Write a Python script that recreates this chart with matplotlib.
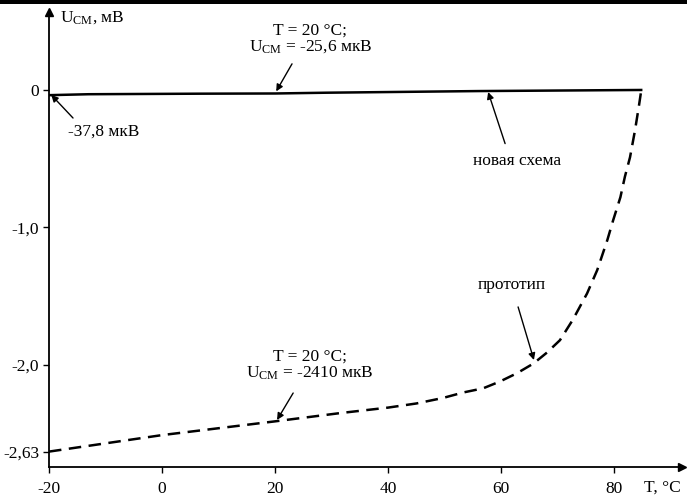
import matplotlib
matplotlib.use("Agg")
import matplotlib.pyplot as plt
from matplotlib.patches import Rectangle

plt.rcParams['font.family'] = ['Liberation Serif', 'DejaVu Serif']
plt.rcParams['mathtext.fontset'] = 'custom'
plt.rcParams['mathtext.rm'] = 'Liberation Serif'
plt.rcParams['mathtext.it'] = 'Liberation Serif'

# Data (T in °C, U in mV)
new_T = [-20, -13, 7, 20, 29, 56, 85]
new_U = [-0.0378, -0.031, -0.027, -0.0256, -0.020, -0.008, 0.0]

proto_T = [-20, -10, 0, 10, 20, 31.5, 40, 45, 49.7, 53.3, 56.8, 59.8, 62.8, 65.7,
           68.1, 70.4, 72.7, 75.2, 77.0, 78.8, 79.8, 81.1, 81.9, 82.8, 83.7, 84.4, 84.8]
proto_U = [-2.63, -2.57, -2.51, -2.46, -2.41, -2.35, -2.31, -2.28, -2.24, -2.20, -2.17, -2.12, -2.06, -1.99,
           -1.91, -1.82, -1.67, -1.48, -1.31, -1.09, -0.95, -0.78, -0.63, -0.49, -0.29, -0.11, 0.0]

x_ticks = [-20, 0, 20, 40, 60, 80]
x_labels = ['-20', '0', '20', '40', '60', '80']
y_ticks = [0, -1.0, -2.0, -2.63]
y_labels = ['0', '-1,0', '-2,0', '-2,63']

fig = plt.figure(figsize=(6.87, 4.98), dpi=100)
ax = fig.add_axes([49/687, 31/498, (682-49)/687, (467-12)/498])
ax.set_xlim(-20, 92)
ax.set_ylim(-2.742, 0.567)

ax.plot(new_T, new_U, color='black', lw=1.8, solid_capstyle='butt')
ax.plot(proto_T, proto_U, color='black', lw=1.8, dashes=(5, 3))

for s in ['top', 'right']:
    ax.spines[s].set_visible(False)
for s in ['left', 'bottom']:
    ax.spines[s].set_linewidth(1.3)

ax.plot([0], [1], marker='^', color='black', markersize=6, transform=ax.transAxes, clip_on=False)
ax.plot([1], [0], marker='>', color='black', markersize=6, transform=ax.transAxes, clip_on=False)

ax.set_xticks(x_ticks)
ax.set_xticklabels(x_labels)
ax.set_yticks(y_ticks)
ax.set_yticklabels(y_labels)
ax.tick_params(axis='both', direction='out', length=4, width=1, labelsize=12.5, pad=3)
ax.tick_params(axis='x', pad=6)

fs = 12.5
ax.text(-18.0, 0.524, 'U$_{\\mathrm{СМ}}$, мВ', fontsize=fs, ha='left', va='center')
ax.text(88.5, -2.895, 'T, °C', fontsize=fs, ha='center', va='center', clip_on=False)

arrow = dict(arrowstyle='-|>', color='black', lw=1.0, mutation_scale=10, shrinkA=0, shrinkB=0)

ax.annotate('', xy=(-19.6, -0.036), xytext=(-15.75, -0.204), arrowprops=arrow)
ax.text(-10.4, -0.305, '-37,8 мкВ', fontsize=fs, ha='center', va='center')

ax.annotate('', xy=(20.2, -0.01), xytext=(23.0, 0.19), arrowprops=arrow)
ax.text(26.2, 0.37, 'T = 20 °C;\nU$_{\\mathrm{СМ}}$ = -25,6 мкВ', fontsize=fs,
        ha='center', va='center', linespacing=1.0)

ax.annotate('', xy=(57.7, -0.015), xytext=(60.7, -0.39), arrowprops=arrow)
ax.text(62.8, -0.516, 'новая схема', fontsize=fs, ha='center', va='center')

ax.annotate('', xy=(65.8, -1.964), xytext=(63.0, -1.578), arrowprops=arrow)
ax.text(61.8, -1.418, 'прототип', fontsize=fs, ha='center', va='center')

ax.annotate('', xy=(20.35, -2.40), xytext=(23.2, -2.204), arrowprops=arrow)
ax.text(26.2, -2.0, 'T = 20 °C;\nU$_{\\mathrm{СМ}}$ = -2410 мкВ', fontsize=fs,
        ha='center', va='center', linespacing=1.0)

fig.add_artist(Rectangle((0, 1 - 4/498), 1, 4/498, transform=fig.transFigure,
                         color='black', lw=0))

fig.savefig('out.png', dpi=100)
